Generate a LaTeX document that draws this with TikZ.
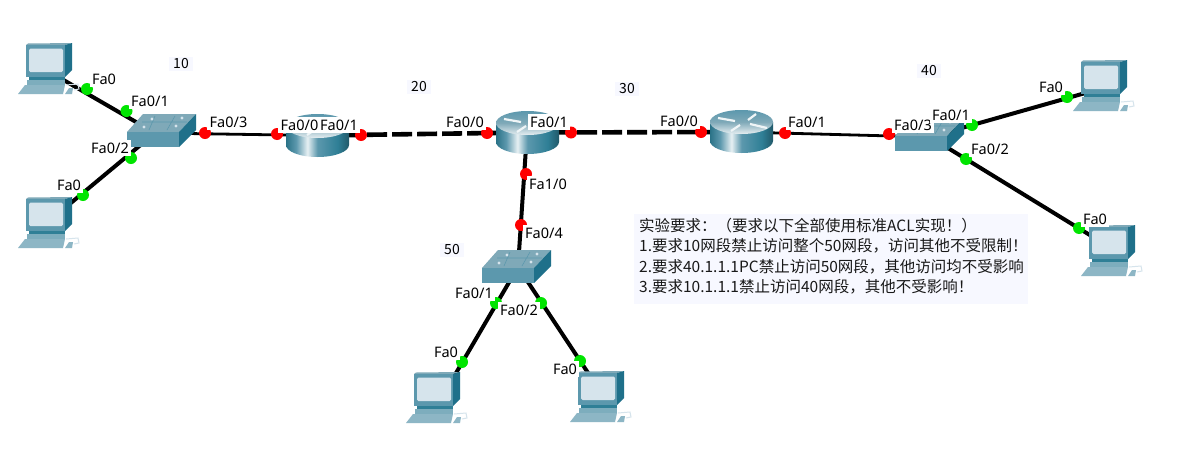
\documentclass[tikz,border=0pt]{standalone}
\usepackage{fontspec}
\setmainfont{Noto Sans}
\newfontfamily\cjkf{Noto Sans CJK SC}
\definecolor{rdark}{HTML}{2F7F96}
\definecolor{swtop}{HTML}{7FA9B8}
\definecolor{swfront}{HTML}{5C98AD}
\definecolor{swside}{HTML}{1F708A}
\definecolor{scr}{HTML}{D6E4EC}
\definecolor{kbd}{HTML}{8DB6C5}
\definecolor{notebg}{HTML}{F7F8FF}
\pgfdeclarehorizontalshading{rbody}{100bp}{color(0bp)=(rdark!90!black);color(25bp)=(rdark!90!black);color(33bp)=(swfront);color(42bp)=(white!85!swfront);color(50bp)=(swfront);color(66bp)=(rdark);color(75bp)=(rdark!70!black);color(100bp)=(rdark!70!black)}
\pgfdeclareverticalshading{rtop}{100bp}{color(0bp)=(white!80!swtop);color(25bp)=(white!80!swtop);color(50bp)=(swtop);color(75bp)=(swfront);color(100bp)=(swfront)}
\tikzset{
  x=1pt,y=-1pt,
  devnode/.style={inner sep=0pt,minimum size=0pt},
  link/.style={line width=4pt,black},
  thinlink/.style={line width=2.8pt,black},
  dashlink/.style={line width=4.6pt,black,dash pattern=on 20pt off 5pt},
  upport/.style={circle,fill=green!90!black,inner sep=0pt,minimum size=12pt},
  downport/.style={circle,fill=red,inner sep=0pt,minimum size=12pt},
  portlabel/.style={fill=white,inner xsep=2.5pt,inner ysep=3pt,font=\fontsize{14.5}{14.5}\selectfont,text height=10.5pt,text depth=0pt,text=black},
  netlabel/.style={fill=notebg,inner xsep=4pt,inner ysep=2pt,font=\cjkf\fontsize{14}{14}\selectfont,text=black},
  notebox/.style={fill=notebg,draw=none,minimum width=394pt,minimum height=90pt,inner sep=0pt},
  noteline/.style={inner sep=0pt,font=\cjkf\fontsize{15.5}{15.5}\selectfont,text=black!90,anchor=west},
  pc/.pic={
    \fill[swtop] (8,2) -- (10,0.5) -- (54,0) -- (47,2) -- cycle;
    \fill[swside] (47,2) -- (54,0) -- (54,27) -- (47,34) -- cycle;
    \fill[swfront] (8,2) rectangle (47,34);
    \fill[scr,rounded corners=1.5pt] (11,5.5) rectangle (45,29);
    \fill[rdark] (11,34) rectangle (47,37);
    \fill[swfront!80!white] (9,37) rectangle (47,42);
    \fill[kbd] (0,51) -- (7,42) -- (47,42) -- (45,51) -- cycle;
    \fill[kbd] (47,51) -- (51,45) -- (55,45) -- (54,51) -- cycle;
    \draw[scr,line width=1pt] (48,42) -- (60,41) -- (61,46) -- (56,47);
  },
  switchdev/.pic={
    \fill[swtop] (0,18) -- (16,0) -- (69,0) -- (52,18) -- cycle;
    \fill[swfront] (0,18) rectangle (52,33);
    \fill[swside] (52,18) -- (69,0) -- (69,16) -- (52,33) -- cycle;
    \draw[swfront,line width=.6pt] (15,8) -- (60,8) (28,2) -- (22,16) (48,2) -- (40,16);
    \foreach \a/\b in {25/5,55/4,17/13,49/12}{\fill[scr] (\a,\b) circle[radius=1.6pt];}
  },
  routerdev/.pic={
    \shade[shading=rbody] (0,12) -- (0,31) .. controls (0,37.6) and (14,43) .. (31.5,43) .. controls (49,43) and (63,37.6) .. (63,31) -- (63,12) -- cycle;
    \shade[shading=rtop] (0,12) .. controls (0,5.4) and (14,0) .. (31.5,0) .. controls (49,0) and (63,5.4) .. (63,12) .. controls (63,18.6) and (49,24) .. (31.5,24) .. controls (14,24) and (0,18.6) .. (0,12) -- cycle;
    \draw[white!90!swfront,line width=2.2pt] (8,8) -- (25,11) (38,10) -- (46,4) (40,14) -- (57,18) (21,21) -- (30,15);
  },
}
\begin{document}
\begin{tikzpicture}
\useasboundingbox[fill=white] (0,0) rectangle (1185,474);
% device anchors
\node[devnode] (pc1) at (48,71) {};
\node[devnode] (pc2) at (48,222) {};
\node[devnode] (pc3) at (442,397) {};
\node[devnode] (pc4) at (604,397) {};
\node[devnode] (pc5) at (1103,88) {};
\node[devnode] (pc6) at (1111,248) {};
\node[devnode] (sw1) at (155,133) {};
\node[devnode] (sw2) at (518,267) {};
\node[devnode] (sw3) at (930,137) {};
\node[devnode] (r1) at (317,135.5) {};
\node[devnode] (r2) at (527,132.5) {};
\node[devnode] (r3) at (741,132) {};
% connectors
\draw[link] (pc1) -- (sw1);
\draw[link] (pc2) -- (sw1);
\draw[thinlink] (sw1) -- (r1);
\draw[dashlink] (r1) -- (r2);
\draw[dashlink] (r2) -- (r3);
\draw[link] (r2) -- (sw2);
\draw[link] (sw2) -- (pc3);
\draw[link] (sw2) -- (pc4);
\draw[thinlink] (r3) -- (sw3);
\draw[link] (sw3) -- (pc5);
\draw[link] (sw3) -- (pc6);
% devices
\pic at (18,43) {pc};
\pic at (18,197) {pc};
\pic at (406,372) {pc};
\pic at (570,371) {pc};
\pic at (1073,60) {pc};
\pic at (1081,225) {pc};
\pic at (127,114) {switchdev};
\pic at (482,250) {switchdev};
\pic at (895,118) {switchdev};
\pic at (286,114) {routerdev};
\pic at (496,111) {routerdev};
\pic at (710,110) {routerdev};
% ports
\node[upport] (p1) at (87,89) {};
\node[upport] (p2) at (126.5,111) {};
\node[upport] (p3) at (131,158) {};
\node[upport] (p4) at (83,195) {};
\node[downport] (p5) at (205,133) {};
\node[downport] (p6) at (277,134) {};
\node[downport] (p7) at (361,135) {};
\node[downport] (p8) at (487,133) {};
\node[downport] (p9) at (571,132.5) {};
\node[downport] (p10) at (526,174) {};
\node[downport] (p11) at (521,225) {};
\node[upport] (p12) at (496,303) {};
\node[upport] (p13) at (541,303) {};
\node[upport] (p14) at (462,362) {};
\node[upport] (p15) at (580,361) {};
\node[downport] (p16) at (701,132) {};
\node[downport] (p17) at (785,133) {};
\node[downport] (p18) at (889,134) {};
\node[upport] (p19) at (972,125) {};
\node[upport] (p20) at (966,159) {};
\node[upport] (p21) at (1067,97) {};
\node[upport] (p22) at (1079,228) {};
% port labels
\node[portlabel] (l1) at (104,79) {Fa0};
\node[portlabel] (l2) at (150,101) {Fa0/1};
\node[portlabel] (l3) at (110,148) {Fa0/2};
\node[portlabel] (l4) at (69,185) {Fa0};
\node[portlabel] (l5) at (228.5,122) {Fa0/3};
\node[portlabel] (l6) at (299.5,125) {Fa0/0};
\node[portlabel] (l7) at (339,125) {Fa0/1};
\node[portlabel] (l8) at (465,122) {Fa0/0};
\node[portlabel] (l9) at (549,122) {Fa0/1};
\node[portlabel] (l10) at (548,184) {Fa1/0};
\node[portlabel] (l11) at (544,233) {Fa0/4};
\node[portlabel] (l12) at (474,293) {Fa0/1};
\node[portlabel] (l13) at (519,310) {Fa0/2};
\node[portlabel] (l14) at (446,352) {Fa0};
\node[portlabel] (l15) at (565,369) {Fa0};
\node[portlabel] (l16) at (679,121) {Fa0/0};
\node[portlabel] (l17) at (807,122) {Fa0/1};
\node[portlabel] (l18) at (913,125) {Fa0/3};
\node[portlabel] (l19) at (951,115) {Fa0/1};
\node[portlabel] (l20) at (990,149) {Fa0/2};
\node[portlabel] (l21) at (1051,87) {Fa0};
\node[portlabel] (l22) at (1095,219) {Fa0};
% network labels
\node[netlabel] (n10) at (181,64) {10};
\node[netlabel] (n20) at (419,87) {20};
\node[netlabel] (n30) at (627,89) {30};
\node[netlabel] (n40) at (929,71) {40};
\node[netlabel] (n50) at (452,250) {50};
% note
\node[notebox] (note) at (831,259) {};
\node[noteline] (t0) at (639,226) {实验要求：（要求以下全部使用标准ACL实现！）};
\node[noteline] (t1) at (639,246) {1.要求10网段禁止访问整个50网段，访问其他不受限制！};
\node[noteline] (t2) at (639,267) {2.要求40.1.1.1PC禁止访问50网段，其他访问均不受影响};
\node[noteline] (t3) at (639,287) {3.要求10.1.1.1禁止访问40网段，其他不受影响！};
\end{tikzpicture}
\end{document}
